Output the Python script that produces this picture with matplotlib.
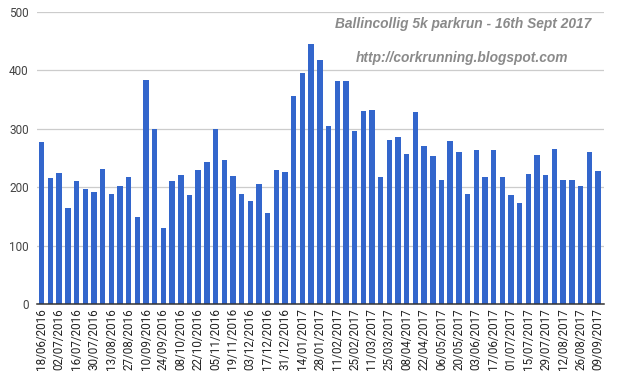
import matplotlib
matplotlib.use("Agg")
import matplotlib.pyplot as plt
import numpy as np

# parkrun finishers per week, every second date labelled
dates = ["18/06/2016", "25/06/2016", "02/07/2016", "09/07/2016", "16/07/2016", "23/07/2016",
         "30/07/2016", "06/08/2016", "13/08/2016", "20/08/2016", "27/08/2016", "03/09/2016",
         "10/09/2016", "17/09/2016", "24/09/2016", "01/10/2016", "08/10/2016", "15/10/2016",
         "22/10/2016", "29/10/2016", "05/11/2016", "12/11/2016", "19/11/2016", "26/11/2016",
         "03/12/2016", "10/12/2016", "17/12/2016", "24/12/2016", "31/12/2016", "07/01/2017",
         "14/01/2017", "21/01/2017", "28/01/2017", "04/02/2017", "11/02/2017", "18/02/2017",
         "25/02/2017", "04/03/2017", "11/03/2017", "18/03/2017", "25/03/2017", "01/04/2017",
         "08/04/2017", "15/04/2017", "22/04/2017", "29/04/2017", "06/05/2017", "13/05/2017",
         "20/05/2017", "27/05/2017", "03/06/2017", "10/06/2017", "17/06/2017", "24/06/2017",
         "01/07/2017", "08/07/2017", "15/07/2017", "22/07/2017", "29/07/2017", "05/08/2017",
         "12/08/2017", "19/08/2017", "26/08/2017", "02/09/2017", "09/09/2017"]

runners = [277, 216, 225, 165, 210, 197, 192, 232, 189, 202, 218, 149,
           383, 300, 130, 210, 221, 186, 229, 244, 300, 247, 220, 188,
           176, 205, 155, 229, 226, 357, 396, 446, 417, 304, 382, 381,
           297, 330, 332, 217, 280, 286, 257, 328, 271, 253, 213, 279,
           261, 189, 263, 218, 263, 218, 186, 173, 223, 255, 221, 266,
           212, 212, 202, 261, 228]

title = "Ballincollig 5k parkrun - 16th Sept 2017"
url = "http://corkrunning.blogspot.com"

plt.rcParams['font.family'] = ['Roboto', 'DejaVu Sans']

fig = plt.figure(figsize=(6.2, 3.79), dpi=100)
ax = fig.add_axes([37/620, 1 - 304/379, (604-37)/620, (304-12)/379])

x = np.arange(len(runners))
ax.bar(x, runners, width=0.62, color="#3366cc", zorder=3)

ax.set_xlim(-0.55, len(runners) - 0.3)
ax.set_ylim(0, 500)
ax.set_yticks([0, 100, 200, 300, 400, 500])
ax.yaxis.grid(True, color="#cccccc", linewidth=0.9, zorder=0)
ax.tick_params(axis="y", length=0, pad=6, labelsize=8.5, labelcolor="#444444")

ax.set_xticks(x[::2])
ax.set_xticklabels(dates[::2], rotation=90, fontsize=8.4, color="#222222")
ax.tick_params(axis="x", length=0, pad=3)

for side in ["top", "right", "left"]:
    ax.spines[side].set_visible(False)
ax.spines["bottom"].set_color("#333333")
ax.spines["bottom"].set_linewidth(1.1)
ax.spines["bottom"].set_zorder(4)

fig.text(591/620, 1 - 24/379, title, ha="right", va="center", fontsize=9.9,
         fontweight="bold", style="italic", color="#8a8a8a", family="Liberation Sans")
fig.text(462/620, 1 - 58/379, url, ha="center", va="center", fontsize=9.9,
         fontweight="bold", style="italic", color="#8a8a8a", family="Liberation Sans")

fig.savefig("out.png", dpi=100, facecolor="white")
